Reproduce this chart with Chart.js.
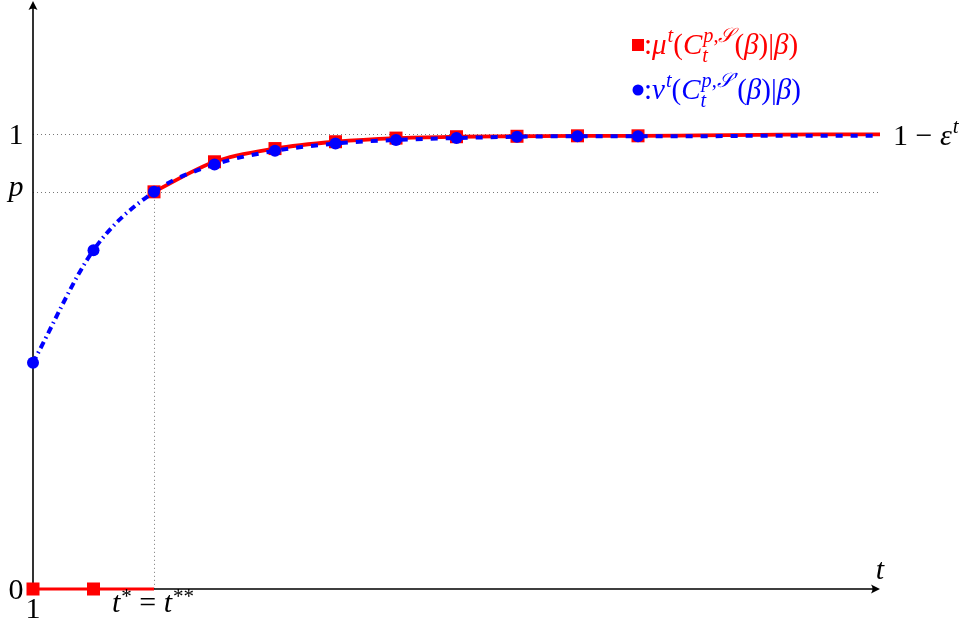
<!DOCTYPE html>
<html>
<head>
<meta charset="utf-8">
<script src="https://cdn.jsdelivr.net/npm/chart.js@4.4.1/dist/chart.umd.min.js"></script>
<style>
    html, body { margin: 0; padding: 0; background: #fff; }
    #wrap { width: 964px; height: 630px; }
</style>
</head>
<body>
<div id="wrap"><canvas id="chartCanvas" width="964" height="630"></canvas></div>
<script>
// values
const tValues = [1, 2, 3, 4, 5, 6, 7, 8, 9, 10, 11, 12, 13, 14, 15];
const blueValues = [0.497, 0.744, 0.872, 0.932, 0.962, 0.978, 0.986, 0.990, 0.993, 0.994, 0.994, 0.994, 0.995, 0.995, 0.995];
const redLowT = [1, 2, 3];
const redLowValues = [0, 0, 0];
const redHighT = [3, 4, 5, 6, 7, 8, 9, 10, 11, 12, 13, 14, 15];
const redHighValues = [0.872, 0.938, 0.967, 0.982, 0.990, 0.993, 0.994, 0.995, 0.995, 0.996, 0.997, 0.998, 0.998];
const lastMarkerT = 11;
const tStar = 3;
const pValue = 0.872;
const yTickValues = [0, pValue, 1];
const yTickLabels = ['0', 'p', '1'];

const RED = '#ff0000';
const BLUE = '#0000ff';
const SERIF = '"Liberation Serif", "DejaVu Serif", serif';
const FS = 30;

function font(size, italic) {
    return (italic ? 'italic ' : '') + size + 'px ' + SERIF;
}

// tiny math typesetter: runs of {t, i, sup, sub}
function runsWidth(ctx, runs, size) {
    let w = 0;
    for (const r of runs) {
        ctx.font = font(size, r.i);
        w += r.t ? ctx.measureText(r.t).width : 0;
        const s = size * 0.7;
        const a = r.sup ? runsWidth(ctx, r.sup, s) + 1 : 0;
        const b = r.sub ? runsWidth(ctx, r.sub, s) : 0;
        w += Math.max(a, b);
        if (r.gap) w += r.gap;
    }
    return w;
}

function drawRuns(ctx, runs, x, y, size, color, raise) {
    const up = raise || 0.4;
    ctx.fillStyle = color;
    for (const r of runs) {
        if (r.gap) x += r.gap;
        ctx.font = font(size, r.i);
        if (r.t) {
            ctx.fillText(r.t, x, y);
            x += ctx.measureText(r.t).width;
        }
        const s = size * 0.7;
        let a = 0, b = 0;
        if (r.sup) { a = runsWidth(ctx, r.sup, s) + 1; drawRuns(ctx, r.sup, x + 1, y - size * up, s, color); }
        if (r.sub) { b = runsWidth(ctx, r.sub, s); drawRuns(ctx, r.sub, x, y + size * 0.27, s, color); }
        x += Math.max(a, b);
    }
    return x;
}

function arrowHead(ctx, x, y, dir) {
    // dir: 'right' or 'up'
    ctx.save();
    ctx.translate(x, y);
    if (dir === 'up') ctx.rotate(-Math.PI / 2);
    ctx.beginPath();
    ctx.moveTo(0, 0);
    ctx.lineTo(-9, -4.5);
    ctx.quadraticCurveTo(-6, 0, -9, 4.5);
    ctx.closePath();
    ctx.fillStyle = '#000';
    ctx.fill();
    ctx.restore();
}

const decorPlugin = {
    id: 'decor',
    beforeDatasetsDraw(chart) {
        const ctx = chart.ctx;
        const xs = chart.scales.x, ys = chart.scales.y;
        const x0 = xs.getPixelForValue(tValues[0]);
        const xEnd = xs.getPixelForValue(tValues[tValues.length - 1]) - 2;
        const y0 = ys.getPixelForValue(0);

        // dotted guides
        ctx.save();
        ctx.strokeStyle = '#777';
        ctx.lineWidth = 1;
        ctx.setLineDash([1, 3]);
        [1, pValue].forEach((v) => {
            const y = Math.round(ys.getPixelForValue(v)) + 0.5;
            ctx.beginPath();
            ctx.moveTo(x0, y);
            ctx.lineTo(xEnd, y);
            ctx.stroke();
        });
        const xs3 = Math.round(xs.getPixelForValue(tStar)) + 0.5;
        ctx.beginPath();
        ctx.moveTo(xs3, ys.getPixelForValue(pValue));
        ctx.lineTo(xs3, y0);
        ctx.stroke();
        ctx.restore();

        // axes
        ctx.save();
        ctx.strokeStyle = '#000';
        ctx.lineWidth = 1.6;
        ctx.beginPath();
        ctx.moveTo(x0, y0);
        ctx.lineTo(xs.right - 3, y0);
        ctx.moveTo(x0, y0);
        ctx.lineTo(x0, ys.top + 3);
        ctx.stroke();
        ctx.restore();
        arrowHead(ctx, xs.right, y0, 'right');
        arrowHead(ctx, x0, ys.top, 'up');
    },
    afterDatasetsDraw(chart) {
        const ctx = chart.ctx;
        const xs = chart.scales.x, ys = chart.scales.y;
        const x0 = xs.getPixelForValue(tValues[0]);
        ctx.save();
        ctx.textBaseline = 'alphabetic';

        // y tick labels
        yTickValues.forEach((v, i) => {
            const lab = yTickLabels[i];
            const italic = lab === 'p';
            ctx.font = font(FS, italic);
            const w = ctx.measureText(lab).width;
            const y = ys.getPixelForValue(v) + (italic ? 4 : 10);
            ctx.fillStyle = '#000';
            ctx.fillText(lab, x0 - 17 - w / 2, y);
        });

        // x labels
        ctx.font = font(FS, false);
        ctx.fillStyle = '#000';
        let w = ctx.measureText('1').width;
        ctx.fillText('1', x0 - w / 2, ys.getPixelForValue(0) + 29);

        const starRuns = [
            { t: 't', i: true, sup: [{ t: '*' }] },
            { t: ' = ' },
            { t: 't', i: true, sup: [{ t: '**' }] },
        ];
        const sw = runsWidth(ctx, starRuns, FS);
        drawRuns(ctx, starRuns, xs.getPixelForValue(tStar) - sw / 2 - 1, ys.getPixelForValue(0) + 23, FS, '#000', 0.3);

        ctx.font = font(FS, true);
        w = ctx.measureText('t').width;
        ctx.fillStyle = '#000';
        ctx.fillText('t', xs.right - w / 2, ys.getPixelForValue(0) - 10);

        const epsRuns = [
            { t: '1 \u2212 ' },
            { t: '\u03B5', i: true, sup: [{ t: 't', i: true }] },
        ];
        drawRuns(ctx, epsRuns, xs.right + 13, ys.getPixelForValue(1) + 11, FS, '#000');

        // legend
        const lx = xs.getPixelForValue(lastMarkerT);
        const ly1 = 45, ly2 = 90;
        ctx.fillStyle = RED;
        ctx.fillRect(lx - 6, ly1 - 6, 12, 12);
        ctx.beginPath();
        ctx.arc(lx, ly2, 5.5, 0, Math.PI * 2);
        ctx.fillStyle = BLUE;
        ctx.fill();

        const legRuns = (S, g) => [
            { t: ':' },
            { t: g, i: true, sup: [{ t: 't', i: true }] },
            { t: '(' },
            { t: 'C', i: true, sup: [{ t: 'p', i: true }, { t: ',' }, { t: S, i: true }], sub: [{ t: 't', i: true }] },
            { t: '(' },
            { t: '\u03B2', i: true },
            { t: ')|' },
            { t: '\u03B2', i: true },
            { t: ')' },
        ];
        drawRuns(ctx, legRuns('\uD835\uDCAE', '\u03BC'), lx + 6, ly1 + 9, 29, RED);
        drawRuns(ctx, legRuns('\uD835\uDCAE\u2032', '\u03BD'), lx + 6, ly2 + 9, 29, BLUE);
        ctx.restore();
    },
};

const markerRadius = (r) => (ctx) => (ctx.raw && ctx.raw.x <= lastMarkerT ? r : 0);

new Chart(document.getElementById('chartCanvas'), {
    type: 'line',
    data: {
        datasets: [
            {
                label: 'nu',
                data: tValues.map((t, i) => ({ x: t, y: blueValues[i] })),
                borderColor: BLUE,
                backgroundColor: BLUE,
                borderWidth: 4,
                pointStyle: 'circle',
                pointRadius: markerRadius(6),
                pointBorderWidth: 0,
                cubicInterpolationMode: 'monotone',
                segment: {
                    borderDash: (ctx) => (ctx.p0.parsed.x < tStar ? [7, 4, 1.5, 4] : [7, 8]),
                },
                clip: false,
                order: 1,
            },
            {
                label: 'mu high',
                data: redHighT.map((t, i) => ({ x: t, y: redHighValues[i] })),
                borderColor: RED,
                backgroundColor: RED,
                borderWidth: 3.8,
                pointStyle: 'rect',
                pointRadius: markerRadius(9.2),
                pointBorderWidth: 0,
                cubicInterpolationMode: 'monotone',
                clip: false,
                order: 2,
            },
            {
                label: 'mu low',
                data: redLowT.map((t, i) => ({ x: t, y: redLowValues[i] })),
                borderColor: RED,
                backgroundColor: RED,
                borderWidth: 3,
                pointStyle: 'rect',
                pointRadius: (ctx) => (ctx.raw && ctx.raw.x < tStar ? 9.2 : 0),
                pointBorderWidth: 0,
                clip: false,
                order: 2,
            },
        ],
    },
    options: {
        responsive: false,
        animation: false,
        events: [],
        layout: { autoPadding: false, padding: { left: 33, right: 84, top: 1, bottom: 41 } },
        scales: {
            x: { type: 'linear', min: 1, max: 15, display: false },
            y: { type: 'linear', min: 0, max: 1.291, display: false },
        },
        plugins: {
            legend: { display: false },
            tooltip: { enabled: false },
        },
    },
    plugins: [decorPlugin],
});
</script>
</body>
</html>
